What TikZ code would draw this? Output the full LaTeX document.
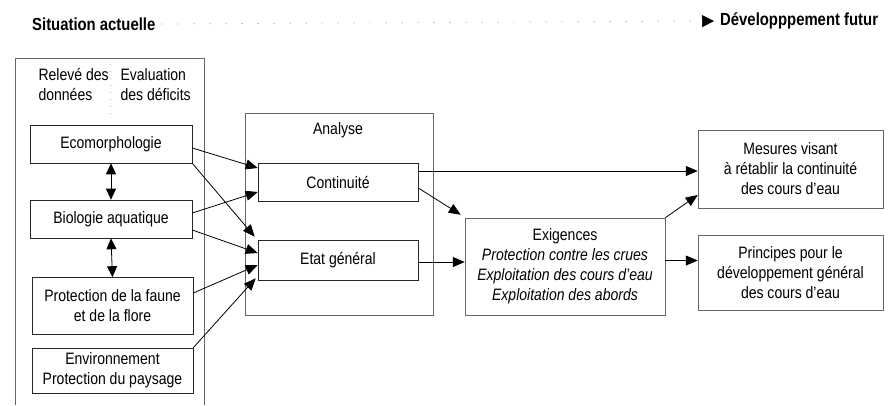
\documentclass[tikz,border=0pt]{standalone}
\usepackage{fontspec}
\setmainfont[FakeStretch=0.85]{Liberation Sans}
\usetikzlibrary{arrows.meta,calc}
\tikzset{
  txt/.style={font=\fontsize{16.5}{20}\selectfont, align=center},
  srcbox/.style={txt, draw=black!85, line width=0.6pt, inner sep=0pt},
  grpbox/.style={draw=black!60, line width=0.5pt},
  outbox/.style={txt, draw=black!60, line width=0.5pt, inner sep=0pt},
  conn/.style={line width=0.8pt, black, -{Triangle[length=12pt,width=10pt]}},
  dconn/.style={line width=0.8pt, black, {Triangle[length=11pt,width=10pt]}-{Triangle[length=11pt,width=10pt]}},
  hdr/.style={font=\fontsize{17.5}{20}\selectfont\bfseries, inner sep=0pt}
}
\begin{document}
\begin{tikzpicture}[x=1pt,y=-1pt]
\useasboundingbox (0,0) rectangle (893,405);

% header
\node[hdr, anchor=west] (sit) at (32,24) {Situation actuelle};
\node[hdr, anchor=west] (dev) at (720,21) {Développpement futur};
\draw[black!50, line width=0.7pt, dash pattern=on 1pt off 15pt,
      -{Triangle[length=12pt,width=12pt,color=black]}, shorten >=6pt]
  ([xshift=6pt]sit.east) -- (dev.west);

% left column frame
\draw[grpbox] (15,405) |- (204,58) -- (204,405);
\node[txt, align=left, anchor=west] (rel) at (35,85) {Relevé des\\données};
\node[txt, align=left, anchor=west] (eva) at (117,85) {Evaluation\\des déficits};
\draw[black!30, line width=0.5pt, dash pattern=on 1pt off 6pt] (110,64) -- (110,114);

% source boxes
\node[srcbox, minimum width=162pt, minimum height=38pt] (eco) at (111,144) {Ecomorphologie};
\node[srcbox, minimum width=162pt, minimum height=38pt] (bio) at (111,219) {Biologie aquatique};
\node[srcbox, minimum width=161pt, minimum height=57pt] (faune) at (112.5,306) {Protection de la faune\\et de la flore};
\node[srcbox, minimum width=161pt, minimum height=45pt] (env) at (112.5,370.5) {Environnement\\Protection du paysage};

\draw[dconn] (eco.south) -- (bio.north);
\draw[dconn] (bio.south) -- (faune.north);

% analysis frame
\draw[grpbox] (245,113) rectangle (433,315);
\node[txt] (ana) at (338,130) {Analyse};
\node[srcbox, minimum width=160pt, minimum height=38pt] (cont) at (338,182) {Continuité};
\node[srcbox, minimum width=160pt, minimum height=40pt] (etat) at (338,260) {Etat général};

% outputs
\node[outbox, minimum width=200pt, minimum height=97pt] (exi) at (565,266.5)
  {Exigences\\\itshape Protection contre les crues\\\itshape Exploitation des cours d'eau\\\itshape Exploitation des abords};
\node[outbox, minimum width=185pt, minimum height=78pt] (mes) at (790.5,169)
  {Mesures visant\\à rétablir la continuité\\des cours d'eau};
\node[outbox, minimum width=185pt, minimum height=75pt] (pri) at (790.5,272.5)
  {Principes pour le\\développement général\\des cours d'eau};

% connectors into analysis
\draw[conn] ([yshift=-4pt]eco.east) -- ([yshift=14pt]cont.west);
\draw[conn] (eco.south east) -- ([xshift=-3pt,yshift=3pt]etat.north west);
\draw[conn] ([yshift=6pt]bio.east) -- ([yshift=-10pt]cont.west);
\draw[conn] ([yshift=-11pt]bio.east) -- ([yshift=7pt]etat.west);
\draw[conn] ([yshift=13pt]faune.east) -- ([yshift=-5pt]etat.west);
\draw[conn] (env.north east) -- ([xshift=-2pt,yshift=2pt]etat.south west);

% connectors out of analysis
\draw[conn] ([yshift=11pt]cont.east) -- ([yshift=11pt]cont.east -| mes.west);
\draw[conn] ([yshift=-6pt]cont.east) -- ([xshift=-4pt,yshift=3pt]exi.north west);
\draw[conn] ([yshift=-2pt]etat.east) -- ([yshift=-2pt]etat.east -| exi.west);
\draw[conn] (exi.north east) -- ([yshift=-26pt]mes.west);
\draw[conn] ([yshift=12pt]pri.west -| exi.east) -- ([yshift=12pt]pri.west);
\end{tikzpicture}
\end{document}
